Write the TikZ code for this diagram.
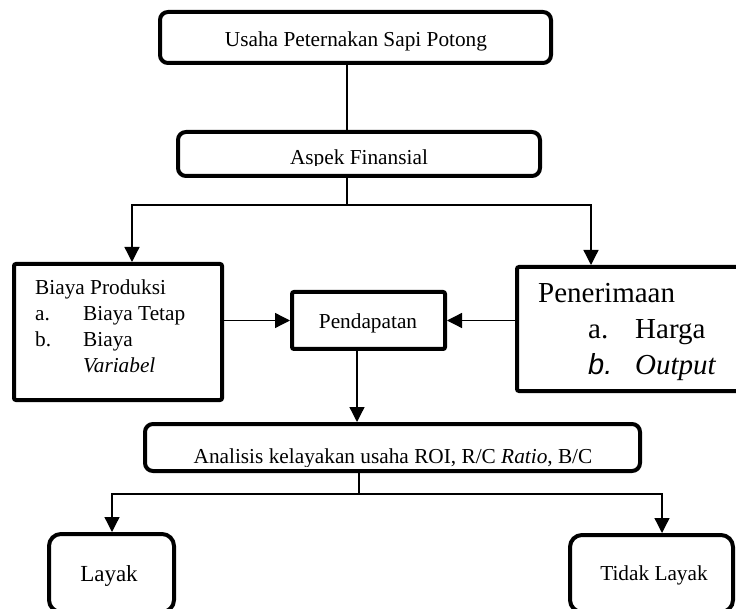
\documentclass[tikz,border=0pt]{standalone}
\usepackage{fontspec}
\setmainfont{Liberation Serif}
\setsansfont{Liberation Sans}
\usepackage{xcolor}
\usetikzlibrary{arrows.meta}

\begin{document}
\begin{tikzpicture}[x=1pt, y=-1pt,
  rbox/.style = {draw, line width=4pt, rounded corners=8pt, inner sep=0pt},
  sbox/.style = {draw, line width=4pt, rounded corners=2pt, inner sep=0pt},
  txt/.style = {anchor=base, inner sep=0pt, font=\fontsize{21.3}{25.7}\selectfont},
  link/.style = {line width=1.3pt},
  arrow/.style = {line width=1.3pt, -{Triangle[length=15pt,width=15pt]}}]
\useasboundingbox (0,0) rectangle (736,609);

%% kotak atas
\node[rbox, minimum width=391, minimum height=51] (usaha) at (355.5,37.5) {};
\node[txt] (usahatxt) at (356,47) {Usaha Peternakan Sapi Potong};

%% aspek finansial
\node[rbox, minimum width=362, minimum height=44] (aspek) at (359,154) {};
\begin{scope}
  \clip (176,130) rectangle (542,166);
  \node[txt] (aspektxt) at (359,165) {Aspek Finansial};
\end{scope}

%% biaya produksi
\node[sbox, minimum width=208, minimum height=136] (biaya) at (118,332) {};
\node[txt, anchor=base west] (biayatxt) at (35,295) {%
  \begin{tabular}[t]{@{}p{48pt}@{}l@{}}
    \multicolumn{2}{@{}l@{}}{Biaya Produksi}\\
    a. & Biaya Tetap\\
    b. & Biaya\\
       & \textit{Variabel}
  \end{tabular}};

%% pendapatan
\node[sbox, minimum width=153, minimum height=57] (pendapatan) at (368.5,320.5) {};
\node[txt] (pendapatantxt) at (368,329) {Pendapatan};

%% penerimaan
\node[sbox, minimum width=223, minimum height=124] (penerimaan) at (628.5,329) {};
\node[anchor=base west, inner sep=0pt, font=\fontsize{29}{35.8}\selectfont] (penerimaantxt) at (538,303) {%
  \begin{tabular}[t]{@{}p{50pt}@{}p{47pt}@{}l@{}}
    \multicolumn{3}{@{}l@{}}{Penerimaan}\\
    & a. & Harga\\
    & {\sffamily\itshape b.} & \textit{Output}
  \end{tabular}};

%% analisis kelayakan
\node[rbox, minimum width=495, minimum height=47] (analisis) at (392.5,447.5) {};
\begin{scope}
  \clip (143,422) rectangle (642,466);
  \node[txt] (analisistxt) at (393,463) {Analisis kelayakan usaha ROI, R/C \textit{Ratio}, B/C};
\end{scope}

%% layak / tidak layak
\node[rbox, rounded corners=12pt, minimum width=125, minimum height=78] (layak) at (111.5,573) {};
\node[txt, font=\fontsize{23}{27}\selectfont] (layaktxt) at (109,581) {Layak};
\node[rbox, rounded corners=12pt, minimum width=163, minimum height=77] (tidak) at (651.5,573.5) {};
\node[txt] (tidaktxt) at (654,580) {Tidak Layak};

%% titik cabang
\coordinate (fork1) at (347,205);
\coordinate (forkL) at (132,205);
\coordinate (forkR) at (591,205);
\coordinate (fork2) at (359,494);
\coordinate (forkL2) at (112,494);
\coordinate (forkR2) at (662,494);

%% garis penghubung
\draw[link] ([xshift=-8.5pt]usaha.south) -- ([xshift=-8.5pt]usaha.south |- aspek.north);
\draw[link] (aspek.south -| fork1) -- (fork1);
\draw[arrow] (fork1) -- (forkL) -- (forkL |- biaya.north);
\draw[arrow] (fork1) -- (forkR) -- (forkR |- penerimaan.north);
\draw[arrow] (biaya.east |- pendapatan.west) -- (pendapatan.west);
\draw[arrow] (penerimaan.west |- pendapatan.east) -- (pendapatan.east);
\draw[arrow] ([xshift=-11.5pt]pendapatan.south) -- ([xshift=-11.5pt]pendapatan.south |- analisis.north);
\draw[link] (analisis.south -| fork2) -- (fork2);
\draw[arrow] (fork2) -- (forkL2) -- (forkL2 |- layak.north);
\draw[arrow] (fork2) -- (forkR2) -- (forkR2 |- tidak.north);
\end{tikzpicture}
\end{document}
